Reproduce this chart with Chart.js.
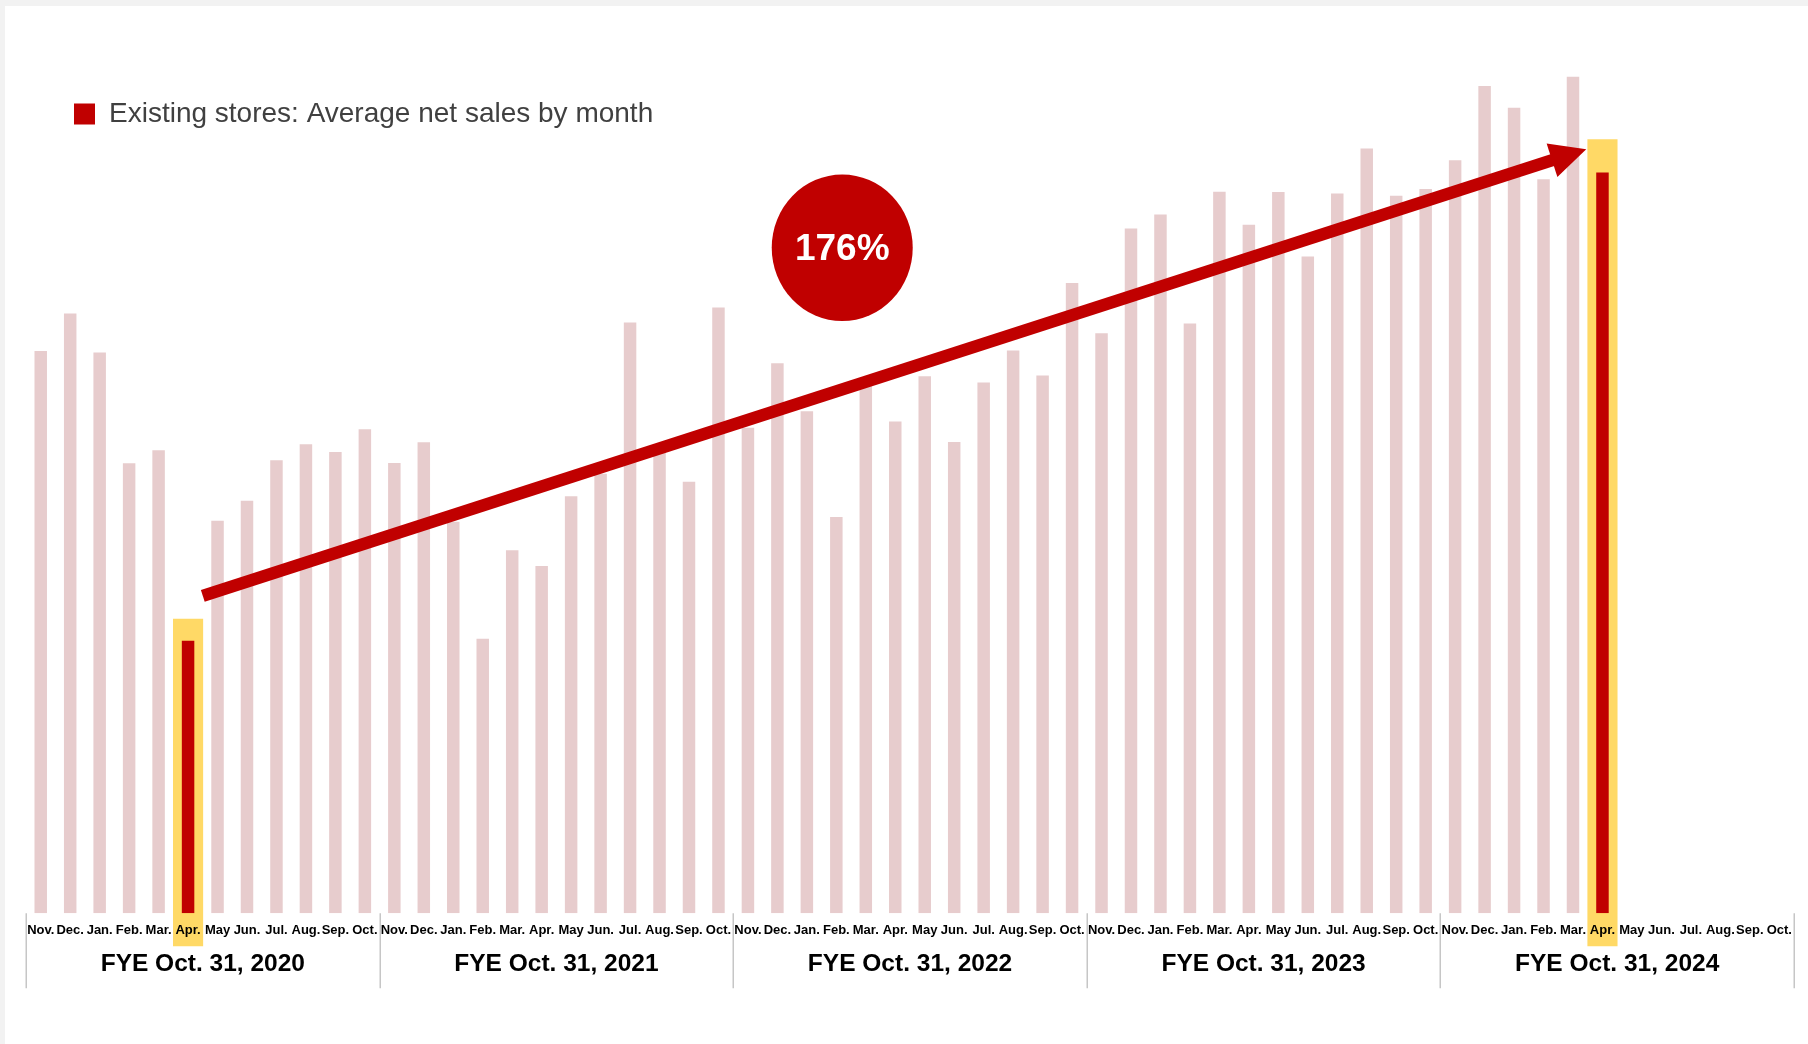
<!DOCTYPE html>
<html>
<head>
<meta charset="utf-8">
<title>Existing stores: Average net sales by month</title>
<script src="https://cdn.jsdelivr.net/npm/chart.js@4.4.1/dist/chart.umd.min.js"></script>
<style>
    html, body { margin: 0; padding: 0; background: #f2f2f2; }
    #wrap { position: absolute; left: 5px; top: 6px; width: 1803px; height: 1038px; background: #fff; }
</style>
</head>
<body>
<div id="wrap"><canvas id="sales-chart"></canvas></div>
<script>
// Month names of a fiscal year (Nov. - Oct.)
const monthLabels = ['Nov.', 'Dec.', 'Jan.', 'Feb.', 'Mar.', 'Apr.', 'May', 'Jun.', 'Jul.', 'Aug.', 'Sep.', 'Oct.'];
const fiscalYears = ['FYE Oct. 31, 2020', 'FYE Oct. 31, 2021', 'FYE Oct. 31, 2022', 'FYE Oct. 31, 2023', 'FYE Oct. 31, 2024'];

// Average net sales by month, index (Apr. 2020 = 100)
const sales2020 = [206.4, 220.2, 205.9, 165.2, 170.0, 100.0, 144.1, 151.4, 166.3, 172.2, 169.3, 177.7];
const sales2021 = [165.3, 172.9, 143.7, 100.8, 133.3, 127.5, 153.1, 161.3, 216.9, 169.6, 158.4, 222.4];
const sales2022 = [178.2, 201.9, 184.3, 145.5, 194.5, 180.5, 197.1, 173.0, 194.8, 206.6, 197.4, 231.4];
const sales2023 = [212.9, 251.4, 256.5, 216.5, 264.9, 252.8, 264.8, 241.1, 264.2, 280.8, 263.4, 265.9];
const sales2024 = [276.4, 303.7, 295.7, 269.5, 307.1, 271.9, null, null, null, null, null, null];

// Highlighted months (Apr. 2020 and Apr. 2024) and the top of their yellow band
const highlightIdx = [5, 53];
const highlightTops = [108, 284];

// Growth annotation
const growthText = '176%';
const arrowStart = [5.5, 116.5];
const arrowEnd = [52.45, 280.5];
const badgeAt = [27.2, 244.3];

const RED = '#c00000';
const PINK = '#e7cccd';
const YELLOW = '#ffd966';
const HL_BASE = -12;

const netSales = [...sales2020, ...sales2021, ...sales2022, ...sales2023, ...sales2024];
const labels = fiscalYears.flatMap(() => monthLabels);
const highlightData = netSales.map((v, i) => {
    const k = highlightIdx.indexOf(i);
    return k < 0 ? null : [HL_BASE, highlightTops[k]];
});

Chart.defaults.font.family = "'Liberation Sans', Arial, sans-serif";

// Year dividers, growth arrow and the 176% badge
const decorPlugin = {
    id: 'decor',
    afterDatasetsDraw(chart) {
        const { ctx, scales: { x, y } } = chart;

        // arrow
        const x0 = x.getPixelForValue(arrowStart[0]);
        const y0 = y.getPixelForValue(arrowStart[1]);
        const x1 = x.getPixelForValue(arrowEnd[0]);
        const y1 = y.getPixelForValue(arrowEnd[1]);
        const ang = Math.atan2(y1 - y0, x1 - x0);
        const headLen = 36, headHalf = 17.5;
        const bx = x1 - headLen * Math.cos(ang);
        const by = y1 - headLen * Math.sin(ang);

        ctx.save();
        ctx.strokeStyle = RED;
        ctx.fillStyle = RED;
        ctx.lineWidth = 12.4;
        ctx.lineCap = 'butt';
        ctx.beginPath();
        ctx.moveTo(x0, y0);
        ctx.lineTo(bx + 2 * Math.cos(ang), by + 2 * Math.sin(ang));
        ctx.stroke();
        ctx.beginPath();
        ctx.moveTo(x1, y1);
        ctx.lineTo(bx - headHalf * Math.sin(ang), by + headHalf * Math.cos(ang));
        ctx.lineTo(bx + headHalf * Math.sin(ang), by - headHalf * Math.cos(ang));
        ctx.closePath();
        ctx.fill();

        // badge
        const cx = x.getPixelForValue(badgeAt[0]);
        const cy = y.getPixelForValue(badgeAt[1]);
        ctx.beginPath();
        ctx.ellipse(cx, cy, 70.5, 73.3, 0, 0, Math.PI * 2);
        ctx.fill();
        ctx.fillStyle = '#fff';
        ctx.font = "bold 37px 'Liberation Sans', Arial, sans-serif";
        ctx.textAlign = 'center';
        ctx.textBaseline = 'middle';
        ctx.fillText(growthText, cx, cy + 2);
        ctx.restore();
    },
    afterDraw(chart) {
        const { ctx, chartArea, scales: { x } } = chart;
        const half = (x.getPixelForValue(1) - x.getPixelForValue(0)) / 2;
        ctx.save();
        ctx.strokeStyle = '#c6c6c6';
        ctx.lineWidth = 1.5;
        for (let i = 0; i <= fiscalYears.length; i++) {
            const px = Math.round(x.getPixelForValue(i * monthLabels.length) - half) + 0.25;
            ctx.beginPath();
            ctx.moveTo(px, chartArea.bottom);
            ctx.lineTo(px, chartArea.bottom + 75);
            ctx.stroke();
        }
        ctx.restore();
    }
};

new Chart(document.getElementById('sales-chart').getContext('2d'), {
    type: 'bar',
    data: {
        labels: labels,
        datasets: [{
            label: 'Existing stores: Average net sales by month',
            data: netSales,
            xAxisID: 'x',
            backgroundColor: ctx => highlightIdx.includes(ctx.dataIndex) ? RED : PINK,
            borderWidth: 0,
            barPercentage: 0.424,
            categoryPercentage: 1,
            grouped: false,
            order: 1
        }, {
            label: 'highlight',
            data: highlightData,
            xAxisID: 'x',
            backgroundColor: YELLOW,
            borderWidth: 0,
            barPercentage: 1,
            categoryPercentage: 1,
            grouped: false,
            clip: false,
            order: 2
        }]
    },
    options: {
        responsive: true,
        maintainAspectRatio: false,
        animation: false,
        layout: { padding: { top: 46.5, left: 21, right: 14, bottom: 63.2 } },
        plugins: {
            tooltip: { enabled: false },
            legend: {
                position: 'chartArea',
                align: 'start',
                title: {
                    display: true,
                    text: ' ',
                    font: { size: 10 },
                    padding: { top: 34, bottom: 0 }
                },
                labels: {
                    boxWidth: 21,
                    boxHeight: 21,
                    padding: 48,
                    color: '#404040',
                    font: { size: 28 },
                    generateLabels: chart => [{
                        text: chart.data.datasets[0].label,
                        fillStyle: RED,
                        strokeStyle: RED,
                        fontColor: '#404040',
                        lineWidth: 0,
                        hidden: false,
                        datasetIndex: 0
                    }]
                }
            }
        },
        scales: {
            x: {
                type: 'category',
                position: 'bottom',
                weight: 0,
                grid: { display: false, drawTicks: false },
                border: { display: false },
                ticks: {
                    autoSkip: false,
                    maxRotation: 0,
                    minRotation: 0,
                    padding: 9.5,
                    color: '#000',
                    font: { size: 13, weight: 'bold' },
                    z: 1
                }
            },
            x2: {
                type: 'category',
                labels: fiscalYears,
                offset: true,
                position: 'bottom',
                weight: 1,
                grid: { display: false, drawTicks: false },
                border: { display: false },
                ticks: {
                    padding: 1.8,
                    color: '#000',
                    font: { size: 24.5, weight: 'bold' }
                }
            },
            y: {
                display: false,
                min: 0,
                max: 316
            }
        }
    },
    plugins: [decorPlugin]
});
</script>
</body>
</html>
